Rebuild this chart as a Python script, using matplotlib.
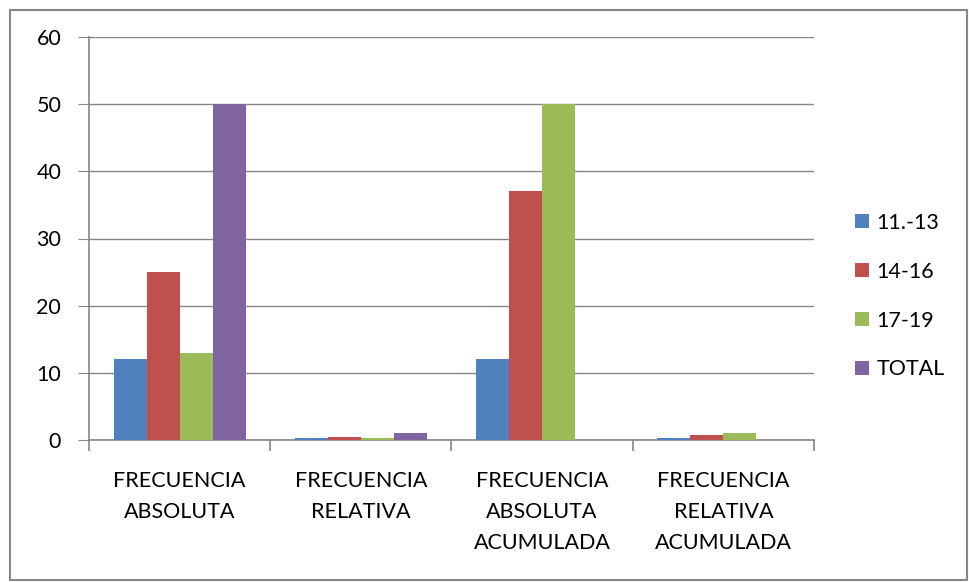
import numpy as np
import matplotlib.pyplot as plt
from matplotlib.patches import Rectangle

# Frecuencias por grupo de edad
categories = ["FRECUENCIA\nABSOLUTA", "FRECUENCIA\nRELATIVA",
              "FRECUENCIA\nABSOLUTA\nACUMULADA", "FRECUENCIA\nRELATIVA\nACUMULADA"]
series_names = ["11.-13", "14-16", "17-19", "TOTAL"]
s_11_13 = [12, 0.24, 12, 0.24]
s_14_16 = [25, 0.5, 37, 0.74]
s_17_19 = [13, 0.26, 50, 1.0]
s_total = [50, 1.0, 0, 0]
colors = ["#4F81BD", "#C0504D", "#9BBB59", "#8064A2"]

plt.rcParams['font.family'] = ['Lato', 'DejaVu Sans']

fig = plt.figure(figsize=(9.7, 5.82), dpi=100)
ax = fig.add_axes([89 / 970, 1 - 440 / 582, (814 - 89) / 970, (440 - 37) / 582])

# marco exterior del gráfico
fig.patches.append(Rectangle((10 / 970, 2 / 582), 957 / 970, 570 / 582,
                             transform=fig.transFigure, fill=False,
                             edgecolor="#878787", linewidth=1.5))

x = np.arange(len(categories))
bw = 0.182
data = [s_11_13, s_14_16, s_17_19, s_total]
for i, (name, vals, c) in enumerate(zip(series_names, data, colors)):
    ax.bar(x + (i - 1.5) * bw, vals, bw, color=c, label=name, zorder=3)

ax.set_xlim(-0.5, 3.5)
ax.set_ylim(0, 60)
ax.set_yticks(range(0, 61, 10))
ax.yaxis.grid(True, color="#868686", linewidth=1)
ax.set_axisbelow(True)
for side in ["top", "right"]:
    ax.spines[side].set_visible(False)
for side in ["left", "bottom"]:
    ax.spines[side].set_color("#868686")
    ax.spines[side].set_linewidth(1.2)

ax.tick_params(axis="y", length=8, color="#868686", labelsize=15.5, pad=12)
ax.set_xticks([-0.5, 0.5, 1.5, 2.5, 3.5])
ax.set_xticklabels([])
ax.tick_params(axis="x", length=8, color="#868686", width=1.2)
ax.set_xticks(x, minor=True)
ax.set_xticklabels(categories, minor=True, fontsize=15.5, linespacing=1.7)
ax.tick_params(axis="x", which="minor", length=0, pad=22)

ax.legend(loc="center left", bbox_to_anchor=(1.03, 0.357), frameon=False,
          fontsize=15.5, handlelength=0.65, handleheight=0.65,
          labelspacing=1.34, handletextpad=0.35)

fig.savefig("out.png", dpi=100)
